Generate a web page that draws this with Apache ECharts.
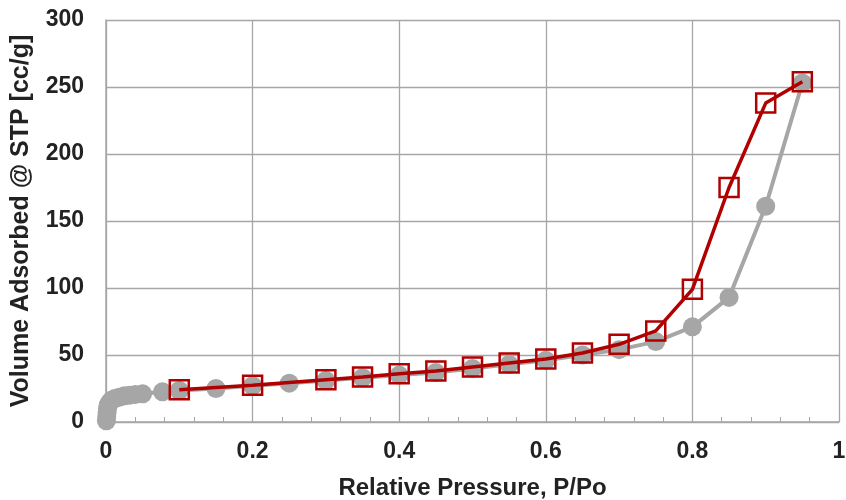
<!DOCTYPE html>
<html>
<head>
<meta charset="utf-8">
<script src="https://cdn.jsdelivr.net/npm/echarts@6/dist/echarts.min.js"></script>
<style>
  html, body { margin: 0; padding: 0; background: #fff; }
  #chart { width: 846px; height: 500px; }
</style>
</head>
<body>
<div id="chart"></div>
<script>
  // adsorption branch (gray circles)
  var adsP = [0.0005, 0.001, 0.0015, 0.002, 0.003, 0.005, 0.008, 0.012, 0.018, 0.025, 0.032, 0.04, 0.05, 0.077,
              0.1, 0.15, 0.2, 0.25, 0.3, 0.35, 0.4, 0.45, 0.5, 0.55, 0.6, 0.65, 0.7, 0.75, 0.8, 0.85, 0.9, 0.95];
  var adsV = [1, 4, 7, 10, 12.5, 14.5, 16.5, 17.5, 18.5, 19.5, 20, 20.5, 21, 22.5,
              23.5, 25, 27, 29, 31, 33, 35, 37, 40, 43, 46, 50, 54, 60, 71, 93, 161, 253];
  // desorption branch (red squares)
  var desP = [0.95, 0.9, 0.85, 0.8, 0.75, 0.7, 0.65, 0.6, 0.55, 0.5, 0.45, 0.4, 0.35, 0.3, 0.2, 0.1];
  var desV = [254, 238, 175, 99, 68, 58, 51.5, 47, 44, 41, 38, 36, 33.5, 31.5, 27.5, 24];
  var xTicks = [0, 0.2, 0.4, 0.6, 0.8, 1];

  var chart = echarts.init(document.getElementById('chart'));

  var ads = [];
  for (var i = 0; i < adsP.length; i++) ads.push([adsP[i], adsV[i]]);
  var des = [];
  for (var j = 0; j < desP.length; j++) des.push([desP[j], desV[j]]);

  var font = 'Liberation Sans, Arial, sans-serif';
  var gridColor = '#a6a6a6';

  var option = {
    animation: false,
    backgroundColor: '#fff',
    grid: { left: 106, right: 7, top: 20, bottom: 78, outerBoundsMode: 'none', containLabel: false },
    xAxis: {
      type: 'value',
      min: 0, max: 1, interval: 0.2,
      name: 'Relative Pressure, P/Po',
      nameLocation: 'middle',
      nameGap: 54,
      nameTextStyle: { fontFamily: font, fontWeight: 'bold', fontSize: 24, color: '#222' },
      axisLine: { show: true, lineStyle: { color: gridColor, width: 1.5 } },
      axisTick: { show: true, inside: true, length: 5, lineStyle: { color: gridColor } },
      minorTick: { show: true, splitNumber: 5, length: 5, lineStyle: { color: gridColor } },
      splitLine: { show: true, lineStyle: { color: gridColor, width: 1.3 } },
      axisLabel: {
        fontFamily: font, fontWeight: 'bold', fontSize: 23, color: '#222', margin: 18,
        formatter: function (v) {
          for (var k = 0; k < xTicks.length; k++) {
            if (Math.abs(v - xTicks[k]) < 1e-6) return String(xTicks[k]);
          }
          return '';
        }
      }
    },
    yAxis: {
      type: 'value',
      min: 0, max: 300, interval: 50,
      name: 'Volume Adsorbed @ STP [cc/g]',
      nameLocation: 'middle',
      nameGap: 72,
      nameTextStyle: { fontFamily: font, fontWeight: 'bold', fontSize: 25, color: '#222' },
      axisLine: { show: true, lineStyle: { color: gridColor, width: 1.5 } },
      axisTick: { show: false },
      splitLine: { show: true, lineStyle: { color: gridColor, width: 1.3 } },
      axisLabel: { fontFamily: font, fontWeight: 'bold', fontSize: 23, color: '#222', margin: 22 }
    },
    series: [
      {
        name: 'Adsorption',
        type: 'line',
        data: ads,
        clip: false,
        symbol: 'circle',
        symbolSize: 19,
        itemStyle: { color: '#a6a6a6' },
        lineStyle: { color: '#a6a6a6', width: 4 },
        z: 2
      },
      {
        name: 'Desorption',
        type: 'line',
        data: des,
        clip: false,
        symbol: 'rect',
        symbolSize: 19,
        itemStyle: { color: 'rgba(255,255,255,0)', borderColor: '#b00000', borderWidth: 2.5 },
        lineStyle: { color: '#b00000', width: 3.5 },
        z: 3
      }
    ]
  };

  chart.setOption(option);
</script>
</body>
</html>
